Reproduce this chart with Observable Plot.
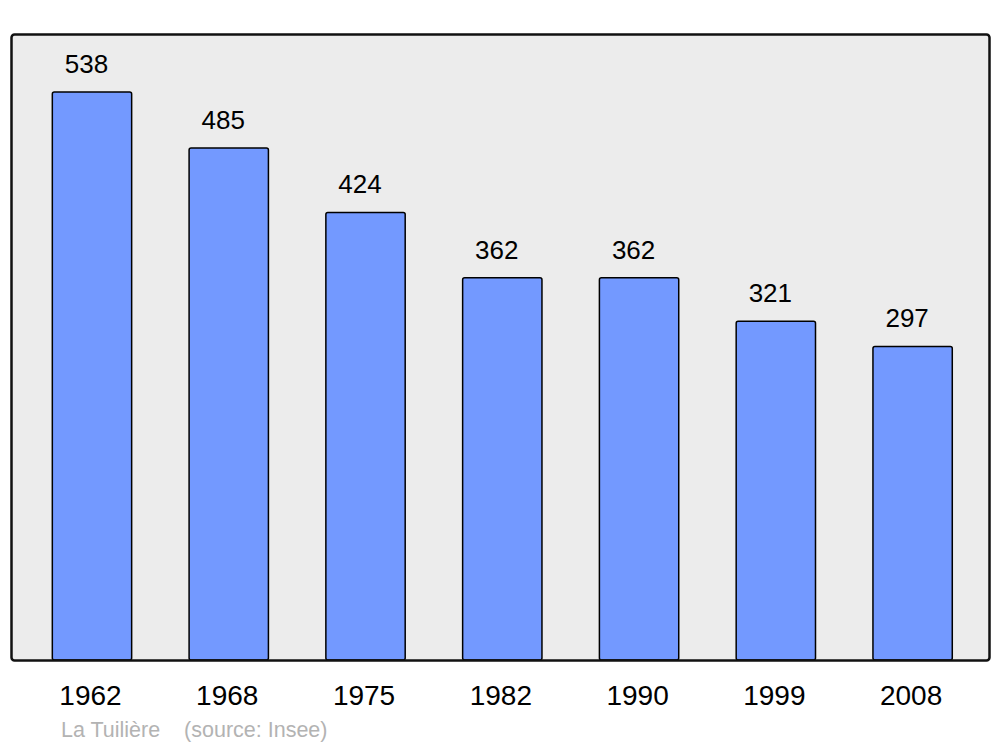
<!DOCTYPE html>
<html>
<head>
<meta charset="utf-8">
<script src="https://cdn.jsdelivr.net/npm/d3@7"></script>
<script src="https://cdn.jsdelivr.net/npm/@observablehq/plot@0.6"></script>
<style>
  body { margin: 0; background: #fff; font-family: "Liberation Sans", Arial, sans-serif; }
  #wrap { position: relative; width: 1000px; height: 747px; }
  #caption { position: absolute; left: 61px; top: 718px; font-size: 21.5px; color: #b3b3b3; white-space: pre; }
</style>
</head>
<body>
<div id="wrap">
  <div id="chart"></div>
  <div id="caption">La Tuilière    (source: Insee)</div>
</div>
<script>
const years = ["1962", "1968", "1975", "1982", "1990", "1999", "2008"];
const population = [538, 485, 424, 362, 362, 321, 297];
const data = years.map((y, i) => ({year: y, pop: population[i]}));

const chart = Plot.plot({
  width: 1000,
  height: 712,
  marginLeft: 11,
  marginRight: 11,
  marginTop: 34,
  marginBottom: 52,
  style: {fontFamily: "Liberation Sans, Arial, sans-serif", background: "transparent"},
  x: {domain: years, insetLeft: 12.6, insetRight: 8, paddingInner: 0.42, paddingOuter: 0.21, round: false, label: null},
  y: {domain: [0, 593], axis: null},
  marks: [
    Plot.frame({fill: "#ececec", stroke: "none", rx: 3}),
    Plot.barY(data, {x: "year", y: "pop", fill: "#7399ff", stroke: "#000", strokeWidth: 1.5, rx: 2}),
    Plot.text(data, {x: "year", y: "pop", text: d => String(d.pop), dy: -28, dx: -6, fontSize: 26, fill: "#000"}),
    Plot.axisX({tickSize: 0, tickPadding: 25, fontSize: 28, dx: -2, color: "#000", label: null}),
    Plot.frame({stroke: "#111", strokeWidth: 2.5, rx: 3})
  ]
});
document.getElementById("chart").appendChild(chart);
</script>
</body>
</html>
